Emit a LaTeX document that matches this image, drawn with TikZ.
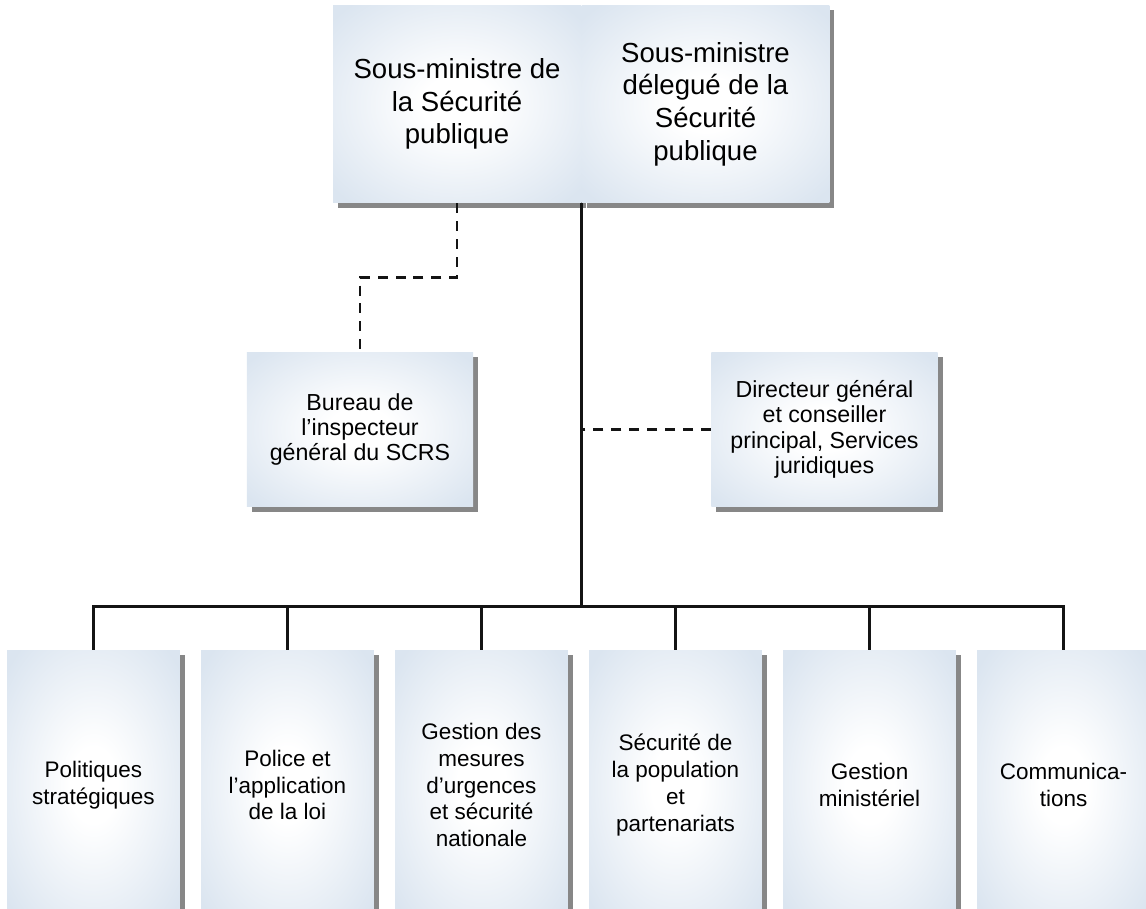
\documentclass[tikz,border=0pt]{standalone}
\usepackage{fontspec}
\setmainfont{Liberation Sans}
\usepackage{tikz}
\usetikzlibrary{shadows, calc}
\definecolor{boxblue}{RGB}{219,229,240}
\definecolor{shadowgray}{RGB}{135,135,135}
\definecolor{linegray}{RGB}{20,20,20}
\pgfdeclareradialshading{boxglow}{\pgfpoint{0bp}{0bp}}{color(0bp)=(white); color(7bp)=(white); color(33bp)=(boxblue); color(50bp)=(boxblue)}
\tikzset{
  orgbox/.style={shade, shading=boxglow, draw=none, inner sep=0, align=center,
    text=black, drop shadow={shadow xshift=0.1cm, shadow yshift=-0.1cm,
    fill=shadowgray, opacity=1}},
  headbox/.style={orgbox, minimum width=4.96cm, minimum height=3.96cm,
    font=\fontsize{15.7}{18.6}\selectfont},
  sidebox/.style={orgbox, minimum width=4.53cm, minimum height=3.1cm,
    font=\fontsize{13.2}{14.4}\selectfont},
  unitbox/.style={orgbox, minimum width=3.46cm, minimum height=5.4cm,
    font=\fontsize{12.8}{15.2}\selectfont},
  solidline/.style={draw=linegray, line width=1.5pt},
  dashline/.style={draw=linegray, line width=1.5pt, dash pattern=on 5.7pt off 4.5pt}
}

\begin{document}
\begin{tikzpicture}[x=0.02cm, y=-0.02cm]

\path[use as bounding box, clip] (0,0) rectangle (1146,909);

% head office
\node [headbox] (dmin) at (457,104) {Sous-ministre de\\la Sécurité\\publique};
\node [headbox] (dmdel) at (705.5,104) {Sous-ministre\\délegué de la\\Sécurité\\publique};

% side offices
\node [sidebox] (bureau) at (360,429.5) {Bureau de\\l’inspecteur\\général du SCRS};
\node [sidebox] (dirjur) at (824.5,429.5) {Directeur général\\et conseiller\\principal, Services\\juridiques};

% sectors
\node [unitbox] (u1) at (93.5,785) {Politiques\\stratégiques};
\node [unitbox] (u2) at (287.5,785) {Police et\\l’application\\de la loi};
\node [unitbox] (u3) at (481.5,785) {Gestion des\\mesures\\d’urgences\\et sécurité\\nationale};
\node [unitbox] (u4) at (675.5,785) {Sécurité de\\la population\\et\\partenariats};
\node [unitbox] (u5) at (869.5,785) {Gestion\\ministériel};
\node [unitbox] (u6) at (1063.5,785) {Communica-\\tions};

% connectors
\coordinate (bar) at ($(dmin.south east)+(0,403)$);
\coordinate (bend) at ($(dmin.south)+(0,74)$);
\draw[solidline] (dmin.south east) -- (bar);
\foreach \i in {1,...,6}
  \draw[solidline] (bar) -| (u\i.north);
\draw[dashline] (dmin.south) -- (bend) -| (bureau.north);
\draw[dashline] (dirjur.west) -- (dirjur.west -| bar);

\end{tikzpicture}
\end{document}
